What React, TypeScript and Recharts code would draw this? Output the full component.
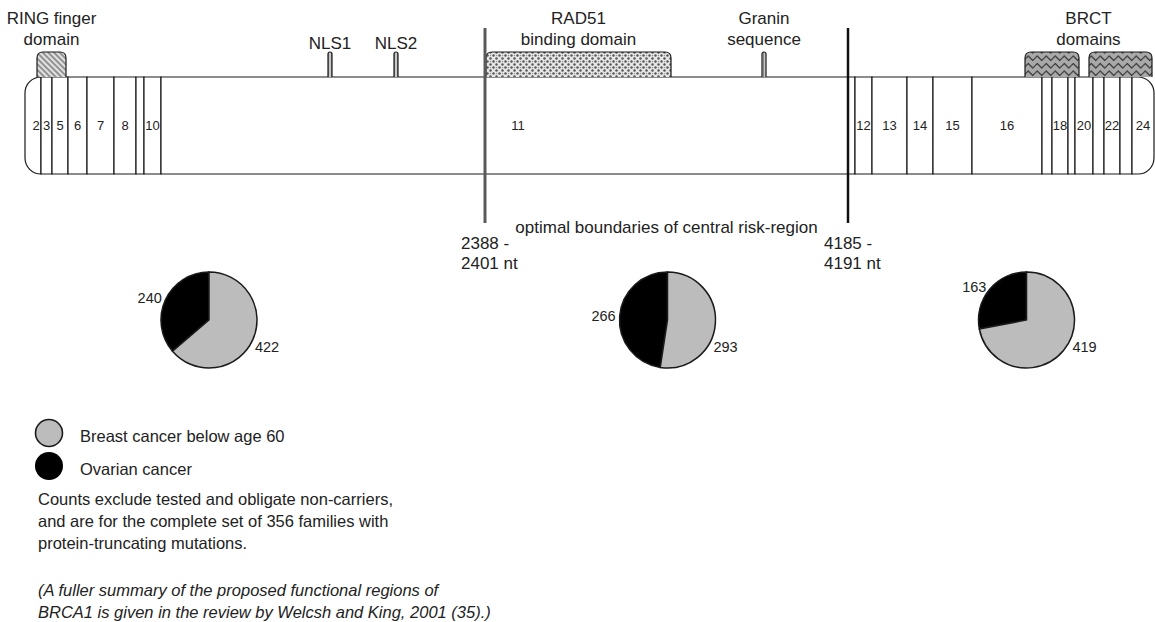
import React from 'react';
import {
  ComposedChart,
  XAxis,
  YAxis,
  ReferenceArea,
  ReferenceLine,
  PieChart,
  Pie,
  Cell,
  Legend,
} from 'recharts';

// ---------- data ----------
// exon boundaries along the BRCA1 diagram (position units of the gene axis)
const exonBounds = [25, 41, 52, 68, 87, 114, 136, 144, 161, 855, 872, 907, 933, 972, 1042, 1052, 1068, 1075, 1093, 1104, 1120, 1132, 1154];
const exonLabels = ['2', '3', '5', '6', '7', '8', '', '10', '11', '12', '13', '14', '15', '16', '', '18', '', '20', '', '22', '', '24'];

// functional features drawn above the gene
const featureNames = ['RING finger', 'NLS1', 'NLS2', 'RAD51 binding', 'Granin', 'BRCT 1', 'BRCT 2'];
const featureStart = [37, 328, 394, 486, 762, 1025, 1089];
const featureEnd = [66, 332, 398, 671, 766, 1079, 1152];
const featureKinds = ['ring', 'nls', 'nls', 'rad51', 'nls', 'brct', 'brct'];

// feature captions
const captionLines = [['RING finger', 'domain'], ['NLS1'], ['NLS2'], ['RAD51', 'binding domain'], ['Granin', 'sequence'], ['BRCT', 'domains']];
const captionStart = [37, 328, 394, 486, 762, 1025];
const captionEnd = [66, 332, 398, 671, 766, 1152];

// optimal boundaries of central risk region
const riskBoundaries = [485, 848];
const riskLabels = [['2388 -', '2401 nt'], ['4185 -', '4191 nt']];
const riskTitle = 'optimal boundaries of central risk-region';

// pie counts per region (N-terminal, central, C-terminal)
const seriesNames = ['Breast cancer below age 60', 'Ovarian cancer'];
const ovarianCounts = [240, 266, 163];
const breastCounts = [422, 293, 419];

const noteLines = [
  'Counts exclude tested and obligate non-carriers,',
  'and are for the complete set of 356 families with',
  'protein-truncating mutations.',
];
const citeLines = [
  '(A fuller summary of the proposed functional regions of',
  'BRCA1 is given in the review by Welcsh and King, 2001 (35).)',
];

// ---------- layout / style ----------
const W = 1155;
const H = 622;
const FONT = "'Liberation Sans', Arial, Helvetica, sans-serif";
const BAR_TOP = 77;
const BAR_BOTTOM = 174;
const BOX_TOP = 52;
const LINE_TOP = 28;
const LINE_BOTTOM = 223;
const PIE_CX = [209, 667.5, 1026.5];
const PIE_CY = 320;
const PIE_R = 48;
const GRAY = '#bcbcbc';
const INK = '#1a1a1a';

const kindFill: Record<string, string> = {
  ring: 'url(#pRing)',
  nls: 'url(#pNls)',
  rad51: 'url(#pDots)',
  brct: 'url(#pWave)',
};

const exonShape = (idx: number, label: string, last: number) => (p: any) => {
  const x = Number(p.x);
  const y = Number(p.y);
  const w = Number(p.width);
  const h = Number(p.height);
  const r = 16;
  let d: string;
  if (idx === 0) {
    d = `M${x + w},${y} H${x + r} A${r},${r} 0 0 0 ${x},${y + r} V${y + h - r} A${r},${r} 0 0 0 ${x + r},${y + h} H${x + w} Z`;
  } else if (idx === last) {
    d = `M${x},${y} H${x + w - r} A${r},${r} 0 0 1 ${x + w},${y + r} V${y + h - r} A${r},${r} 0 0 1 ${x + w - r},${y + h} H${x} Z`;
  } else {
    d = `M${x},${y} H${x + w} V${y + h} H${x} Z`;
  }
  return (
    <g>
      <path d={d} fill="#fff" stroke={INK} strokeWidth={1.2} />
      {label ? (
        <text
          x={x + w / 2 + (idx === 0 ? 3 : idx === 8 ? 10 : 0)}
          y={y + h / 2 + 4.5}
          textAnchor="middle"
          fontSize={13}
          fontFamily={FONT}
          fill="#222"
        >
          {label}
        </text>
      ) : null}
    </g>
  );
};

const featureShape = (kind: string) => (p: any) => {
  const x = Number(p.x);
  const y = Number(p.y);
  const w = Number(p.width);
  const h = Number(p.height);
  const rr = Math.min(6, w / 2);
  const d = `M${x},${y + h} V${y + rr} Q${x},${y} ${x + rr},${y} H${x + w - rr} Q${x + w},${y} ${x + w},${y + rr} V${y + h}`;
  return <path d={d} fill={kindFill[kind]} stroke={INK} strokeWidth={1.2} />;
};

const captionShape = (lines: string[]) => (p: any) => {
  const x = Number(p.x);
  const y = Number(p.y);
  const w = Number(p.width);
  const h = Number(p.height);
  const cx = x + w / 2;
  const lastBase = y + h - (lines.length === 1 ? 3 : 7);
  return (
    <g>
      {lines.map((t, i) => (
        <text
          key={i}
          x={cx}
          y={lastBase - (lines.length - 1 - i) * 21}
          textAnchor="middle"
          fontSize={17}
          fontFamily={FONT}
          fill="#222"
        >
          {t}
        </text>
      ))}
    </g>
  );
};

const riskLabelShape = (lines: string[]) => (p: any) => {
  const x = Number(p.x);
  const y = Number(p.y);
  return (
    <g>
      {lines.map((t, i) => (
        <text key={i} x={x} y={y + 26 + i * 20} fontSize={17} fontFamily={FONT} fill="#222">
          {t}
        </text>
      ))}
    </g>
  );
};

const titleShape = (p: any) => {
  const x = Number(p.x);
  const y = Number(p.y);
  const w = Number(p.width);
  return (
    <text x={x + w / 2} y={y + 10} textAnchor="middle" fontSize={17} fontFamily={FONT} fill="#222">
      {riskTitle}
    </text>
  );
};

const RAD = Math.PI / 180;
const renderPieLabel = (p: any) => {
  const cx = Number(p.cx);
  const cy = Number(p.cy);
  const or = Number(p.outerRadius);
  if (p.index === 0) {
    const r = or + 4;
    const x = cx + r * Math.cos(-p.midAngle * RAD);
    const y = cy + r * Math.sin(-p.midAngle * RAD);
    return (
      <text x={x} y={y} textAnchor="end" dominantBaseline="central" fontSize={14.5} fontFamily={FONT} fill="#222">
        {p.value}
      </text>
    );
  }
  const r = or + 5;
  const x = cx + r * Math.cos(30 * RAD);
  const y = cy + r * Math.sin(30 * RAD);
  return (
    <text x={x} y={y} textAnchor="start" dominantBaseline="central" fontSize={14.5} fontFamily={FONT} fill="#222">
      {p.value}
    </text>
  );
};

const legendContent = () => (
  <svg width={400} height={80} style={{ display: 'block' }}>
    <circle cx={49} cy={23} r={13.5} fill={GRAY} stroke={INK} strokeWidth={1.6} />
    <text x={80} y={31.5} fontSize={16.5} fontFamily={FONT} fill="#222">
      {seriesNames[0]}
    </text>
    <circle cx={49} cy={56} r={14} fill="#000" />
    <text x={80} y={64.5} fontSize={16.5} fontFamily={FONT} fill="#222">
      {seriesNames[1]}
    </text>
  </svg>
);

export default function App() {
  const lastExon = exonLabels.length - 1;
  const axisData = exonBounds.map((b) => ({ pos: b, v: 0 }));
  return (
    <div style={{ position: 'absolute', left: 0, top: 0, width: W, height: H, background: '#fff', overflow: 'hidden' }}>
      <svg width={0} height={0} style={{ position: 'absolute' }}>
        <defs>
          <pattern id="pRing" width={4} height={4} patternUnits="userSpaceOnUse" patternTransform="rotate(-45)">
            <rect width={4} height={4} fill="#e2e2e2" />
            <line x1={1} y1={0} x2={1} y2={4} stroke="#707070" strokeWidth={1.4} />
          </pattern>
          <pattern id="pNls" width={3} height={3} patternUnits="userSpaceOnUse">
            <rect width={3} height={3} fill="#c8c8c8" />
            <line x1={1.5} y1={0} x2={1.5} y2={3} stroke="#777" strokeWidth={0.8} />
          </pattern>
          <pattern id="pDots" width={6} height={6} patternUnits="userSpaceOnUse">
            <rect width={6} height={6} fill="#e6e6e6" />
            <circle cx={1.5} cy={1.5} r={1.2} fill="#555" />
            <circle cx={4.5} cy={4.5} r={1.2} fill="#555" />
            <circle cx={4.5} cy={1.6} r={0.7} fill="#888" />
          </pattern>
          <pattern id="pWave" width={9} height={7.5} patternUnits="userSpaceOnUse" y={2}>
            <rect width={9} height={7.5} fill="#a9a9a9" />
            <path d="M0,3.75 L2.25,1.5 L4.5,3.75 L6.75,6 L9,3.75" fill="none" stroke="#2a2a2a" strokeWidth={1} />
          </pattern>
        </defs>
      </svg>

      <div style={{ position: 'absolute', left: 0, top: 0 }}>
        <ComposedChart width={W} height={H} data={axisData} margin={{ top: 0, right: 0, bottom: 0, left: 0 }}>
          <XAxis type="number" dataKey="pos" domain={[0, W]} allowDataOverflow hide />
          <YAxis type="number" dataKey="v" domain={[0, H]} reversed allowDataOverflow hide />
          {exonLabels.map((lab, i) => (
            <ReferenceArea
              key={'ex' + i}
              x1={exonBounds[i]}
              x2={exonBounds[i + 1]}
              y1={BAR_TOP}
              y2={BAR_BOTTOM}
              shape={exonShape(i, lab, lastExon)}
            />
          ))}
          {featureNames.map((n, i) => (
            <ReferenceArea
              key={'ft' + i}
              x1={featureStart[i]}
              x2={featureEnd[i]}
              y1={BOX_TOP}
              y2={BAR_TOP}
              shape={featureShape(featureKinds[i])}
            />
          ))}
          {captionLines.map((lines, i) => (
            <ReferenceArea
              key={'cap' + i}
              x1={captionStart[i]}
              x2={captionEnd[i]}
              y1={0}
              y2={BOX_TOP}
              shape={captionShape(lines)}
            />
          ))}
          <ReferenceLine
            segment={[
              { x: riskBoundaries[0], y: LINE_TOP },
              { x: riskBoundaries[0], y: LINE_BOTTOM },
            ]}
            stroke="#5a5a5a"
            strokeWidth={3}
          />
          <ReferenceLine
            segment={[
              { x: riskBoundaries[1], y: LINE_TOP },
              { x: riskBoundaries[1], y: LINE_BOTTOM },
            ]}
            stroke="#111"
            strokeWidth={2.5}
          />
          {riskBoundaries.map((b, i) => (
            <ReferenceArea
              key={'rl' + i}
              x1={b - 24}
              x2={b}
              y1={LINE_BOTTOM}
              y2={LINE_BOTTOM + 50}
              shape={riskLabelShape(riskLabels[i])}
            />
          ))}
          <ReferenceArea
            x1={riskBoundaries[0]}
            x2={riskBoundaries[1]}
            y1={LINE_BOTTOM}
            y2={LINE_BOTTOM + 12}
            shape={titleShape}
          />
        </ComposedChart>
      </div>

      <div style={{ position: 'absolute', left: 0, top: 0 }}>
        <PieChart width={W} height={H} margin={{ top: 0, right: 0, bottom: 0, left: 0 }}>
          {ovarianCounts.map((o, i) => (
            <Pie
              key={'pie' + i}
              data={[
                { name: seriesNames[1], value: o },
                { name: seriesNames[0], value: breastCounts[i] },
              ]}
              dataKey="value"
              nameKey="name"
              cx={PIE_CX[i]}
              cy={PIE_CY}
              outerRadius={PIE_R}
              startAngle={90}
              endAngle={450}
              stroke={INK}
              strokeWidth={1.5}
              isAnimationActive={false}
              label={renderPieLabel}
              labelLine={false}
            >
              <Cell fill="#000" />
              <Cell fill={GRAY} />
            </Pie>
          ))}
          <Legend
            content={legendContent}
            wrapperStyle={{ position: 'absolute', left: 0, top: 410, width: 400, height: 80 }}
          />
        </PieChart>
      </div>

      <svg width={W} height={H} style={{ position: 'absolute', left: 0, top: 0, pointerEvents: 'none' }}>
        {noteLines.map((t, i) => (
          <text key={'n' + i} x={38} y={505 + i * 22} fontSize={16.5} fontFamily={FONT} fill="#222">
            {t}
          </text>
        ))}
        {citeLines.map((t, i) => (
          <text key={'c' + i} x={38} y={596 + i * 22} fontSize={16.5} fontFamily={FONT} fontStyle="italic" fill="#222">
            {t}
          </text>
        ))}
      </svg>
    </div>
  );
}
